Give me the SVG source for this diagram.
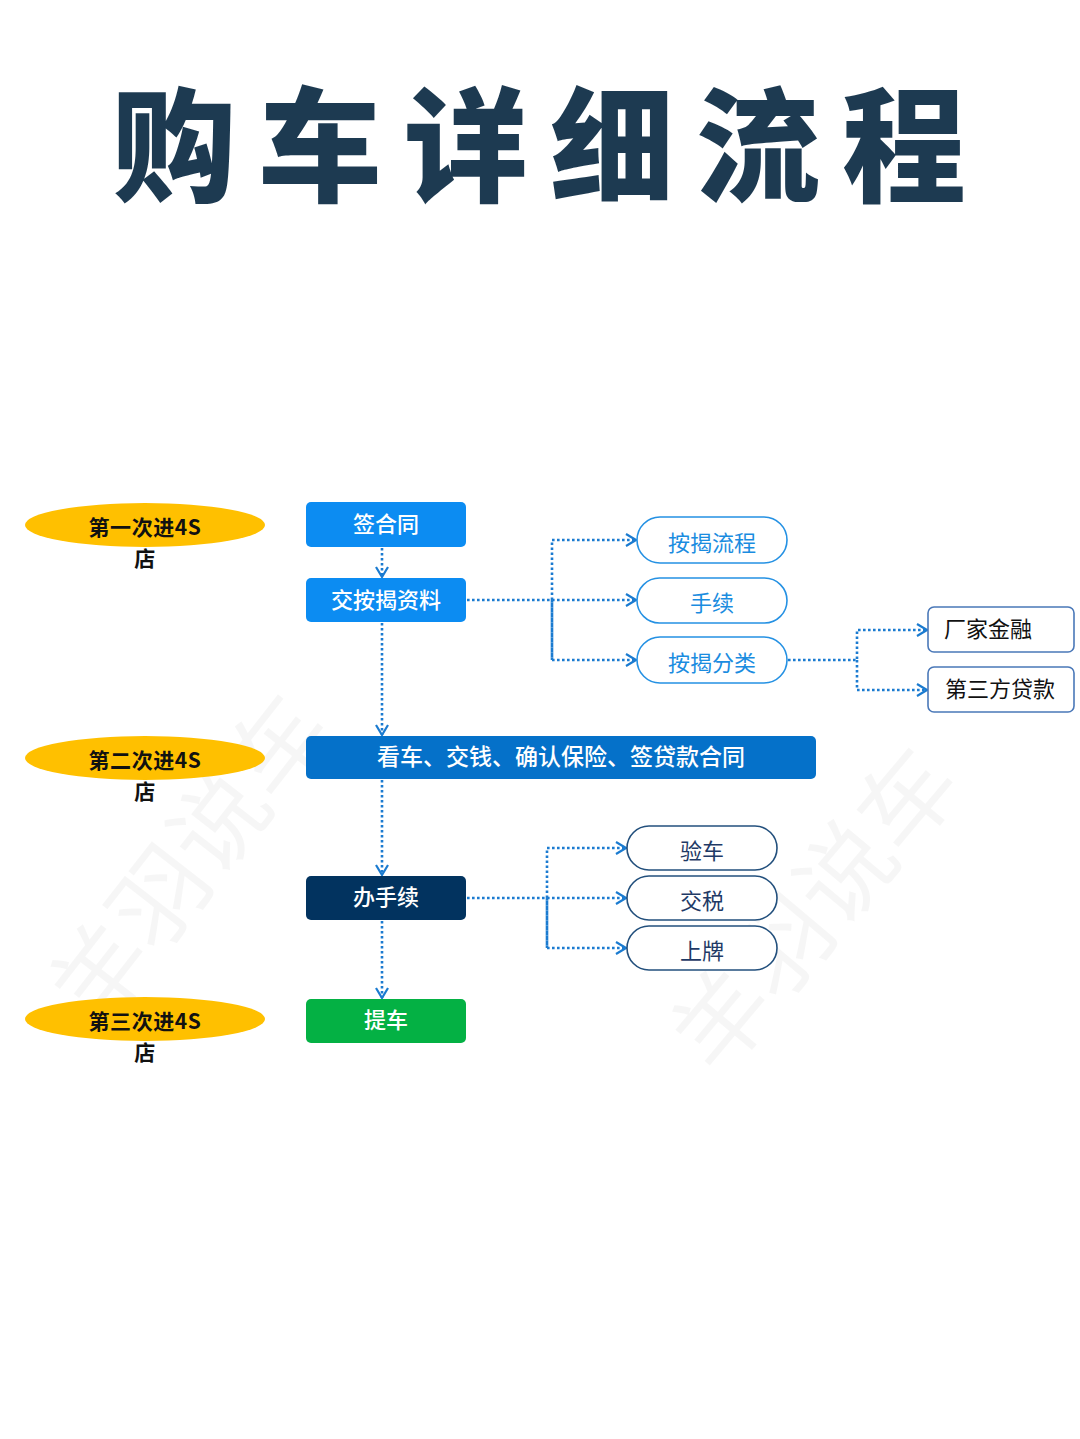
<svg xmlns="http://www.w3.org/2000/svg" width="1080" height="1439" viewBox="0 0 1080 1439">
<defs>
<style>
text{font-family:"Noto Sans CJK SC","Noto Sans",sans-serif;}
.title{font-size:124px;font-weight:900;fill:#1d3a51;letter-spacing:22px;}
.wm{font-size:96px;fill:#000;fill-opacity:0.035;font-weight:400;}
.ell{fill:#ffc000;}
.lbl{font-size:21px;font-weight:700;fill:#111;text-anchor:middle;letter-spacing:0.6px;}
.nt{font-size:22px;font-weight:500;fill:#fff;text-anchor:middle;}
.pillA{fill:#fff;stroke:#2591e3;stroke-width:1.6;}
.pillA-t{font-size:22px;fill:#1a8ce0;text-anchor:middle;}
.pillB{fill:#fff;stroke:#23507d;stroke-width:1.6;}
.pillB-t{font-size:22px;fill:#1f3a66;text-anchor:middle;}
.box{fill:#fff;stroke:#4a78b8;stroke-width:1.6;}
.box-t{font-size:22px;fill:#111;text-anchor:middle;}
.con{fill:none;stroke:#1b7bd0;stroke-width:2.6;stroke-dasharray:2.6 2.4;}
</style>
<marker id="arr" viewBox="0 0 12 14" refX="11" refY="7" markerWidth="12" markerHeight="14" markerUnits="userSpaceOnUse" orient="auto">
<path d="M1,1 L11,7 L1,13" fill="none" stroke="#1b7bd0" stroke-width="2.2"/>
</marker>
</defs>
<rect width="1080" height="1439" fill="#fff"/>

<g id="watermarks">
<text class="wm" x="190" y="894" text-anchor="middle" transform="rotate(-52 190 860)">羊羽说车</text>
<text class="wm" x="815" y="944" text-anchor="middle" transform="rotate(-50 815 910)">羊羽说车</text>
</g>

<g id="title">
<text class="title" x="112" y="192">购车详细流程</text>
</g>

<g id="stage1">
<ellipse class="ell" cx="145" cy="525" rx="120" ry="22"/>
<text class="lbl" x="145" y="535">第一次进4S<tspan x="145" dy="31">店</tspan></text>
</g>
<g id="stage2">
<ellipse class="ell" cx="145" cy="758" rx="120" ry="22"/>
<text class="lbl" x="145" y="768">第二次进4S<tspan x="145" dy="31">店</tspan></text>
</g>
<g id="stage3">
<ellipse class="ell" cx="145" cy="1019" rx="120" ry="22"/>
<text class="lbl" x="145" y="1029">第三次进4S<tspan x="145" dy="31">店</tspan></text>
</g>

<g id="connectors">
<path class="con" d="M382,548 V577" marker-end="url(#arr)"/>
<path class="con" d="M382,623 V735" marker-end="url(#arr)"/>
<path class="con" d="M382,780 V875" marker-end="url(#arr)"/>
<path class="con" d="M382,921 V998" marker-end="url(#arr)"/>
<path class="con" d="M467,600 H636" marker-end="url(#arr)"/>
<path class="con" d="M552,660 V540 H636" marker-end="url(#arr)"/>
<path class="con" d="M552,600 V660 H636" marker-end="url(#arr)"/>
<path class="con" d="M788,660 H857 V630 H927" marker-end="url(#arr)"/>
<path class="con" d="M857,660 V690 H927" marker-end="url(#arr)"/>
<path class="con" d="M467,898 H626" marker-end="url(#arr)"/>
<path class="con" d="M547,948 V848 H626" marker-end="url(#arr)"/>
<path class="con" d="M547,898 V948 H626" marker-end="url(#arr)"/>
</g>

<g id="n-sign">
<rect x="306" y="502" width="160" height="45" rx="5" fill="#0c8cf2"/>
<text class="nt" x="386" y="532">签合同</text>
</g>
<g id="n-docs">
<rect x="306" y="578" width="160" height="44" rx="5" fill="#0c8cf2"/>
<text class="nt" x="386" y="608">交按揭资料</text>
</g>
<g id="n-view">
<rect x="306" y="736" width="510" height="43" rx="5" fill="#0571c9"/>
<text class="nt" x="561" y="765" style="font-size:23px">看车、交钱、确认保险、签贷款合同</text>
</g>
<g id="n-proc">
<rect x="306" y="876" width="160" height="44" rx="5" fill="#02335f"/>
<text class="nt" x="386" y="905">办手续</text>
</g>
<g id="n-pick">
<rect x="306" y="999" width="160" height="44" rx="5" fill="#04b144"/>
<text class="nt" x="386" y="1028">提车</text>
</g>

<g id="p-flow">
<rect class="pillA" x="637" y="517" width="150" height="46" rx="23"/>
<text class="pillA-t" x="712" y="551">按揭流程</text>
</g>
<g id="p-hand">
<rect class="pillA" x="637" y="578" width="150" height="45" rx="22.5"/>
<text class="pillA-t" x="712" y="611">手续</text>
</g>
<g id="p-type">
<rect class="pillA" x="637" y="637" width="150" height="46" rx="23"/>
<text class="pillA-t" x="712" y="671">按揭分类</text>
</g>

<g id="b-maker">
<rect class="box" x="928" y="607" width="146" height="45" rx="6"/>
<text class="box-t" x="988" y="637">厂家金融</text>
</g>
<g id="b-third">
<rect class="box" x="928" y="667" width="146" height="45" rx="6"/>
<text class="box-t" x="1000" y="697">第三方贷款</text>
</g>

<g id="p-check">
<rect class="pillB" x="627" y="826" width="150" height="44" rx="22"/>
<text class="pillB-t" x="702" y="859">验车</text>
</g>
<g id="p-tax">
<rect class="pillB" x="627" y="876" width="150" height="44" rx="22"/>
<text class="pillB-t" x="702" y="909">交税</text>
</g>
<g id="p-plate">
<rect class="pillB" x="627" y="926" width="150" height="44" rx="22"/>
<text class="pillB-t" x="702" y="959">上牌</text>
</g>
</svg>
